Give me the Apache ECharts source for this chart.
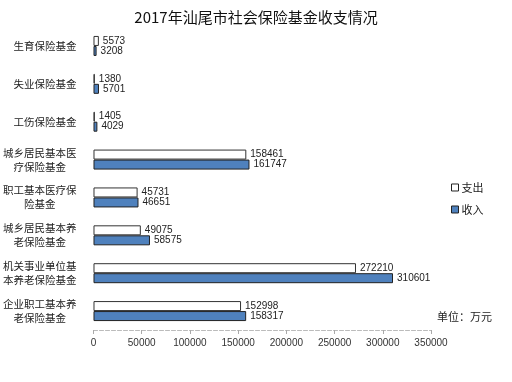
<!DOCTYPE html>
<html><head><meta charset="utf-8">
<script src="https://cdn.jsdelivr.net/npm/echarts@6/dist/echarts.min.js"></script>
<style>html,body{margin:0;padding:0;background:#fff}#c{width:512px;height:382px}</style>
</head><body><div id="c"></div>
<script>
const categories = ['生育保险基金','失业保险基金','工伤保险基金','城乡居民基本医\n疗保险基金　','职工基本医疗保\n险基金　　','城乡居民基本养\n老保险基金　','机关事业单位基\n本养老保险基金','企业职工基本养\n老保险基金　'];
const expenditure = [5573,1380,1405,158461,45731,49075,272210,152998];
const income = [3208,5701,4029,161747,46651,58575,310601,158317];
const xTicks = [0,50000,100000,150000,200000,250000,300000,350000];
const seriesNames = ['支出','收入'];

const chart = echarts.init(document.getElementById('c'));
const font = '"Noto Sans CJK SC", sans-serif';
const numFont = '"Liberation Sans", "DejaVu Sans", sans-serif';
chart.setOption({
  animation:false,
  title:{text:'2017年汕尾市社会保险基金收支情况',left:'center',top:5,
    textStyle:{fontFamily:font,fontSize:15,fontWeight:'normal',color:'#111'}},
  legend:{orient:'vertical',left:446,top:177,itemWidth:7,itemHeight:7,itemGap:11,icon:'rect',
    data:[{name:seriesNames[0],itemStyle:{color:'#fff',borderColor:'#222',borderWidth:1}},
          {name:seriesNames[1],itemStyle:{color:'#4f81bd',borderColor:'#222',borderWidth:1}}],
    textStyle:{fontFamily:font,fontSize:11,color:'#222',padding:[0,0,0,-2]}},
  grid:{left:92,right:81,top:27,bottom:52},
  xAxis:{type:'value',min:xTicks[0],max:xTicks[xTicks.length-1],interval:50000,
    axisLine:{show:true,lineStyle:{color:'#bbb',type:'dashed'}},
    axisTick:{show:true,length:4,lineStyle:{color:'#aaa'}},
    splitLine:{show:false},
    axisLabel:{margin:8,fontFamily:numFont,fontSize:10,color:'#333',formatter:v=>String(v)}},
  yAxis:{type:'category',inverse:true,data:categories,
    axisLine:{show:false},axisTick:{show:false},
    axisLabel:{margin:17,fontFamily:font,fontSize:10.5,color:'#222',lineHeight:14,align:'right'}},
  series:[
    {name:seriesNames[0],type:'bar',data:expenditure,barWidth:10,barGap:'0%',
      itemStyle:{color:'#fff',borderColor:'#333',borderWidth:1},
      label:{show:true,position:'right',distance:4,fontFamily:numFont,fontSize:10,color:'#222'}},
    {name:seriesNames[1],type:'bar',data:income,barWidth:10,
      itemStyle:{color:'#4f81bd',borderColor:'#222',borderWidth:1},
      label:{show:true,position:'right',distance:4,fontFamily:numFont,fontSize:10,color:'#222'}}
  ],
  graphic:[{type:'text',left:437,top:311,style:{text:'单位：万元',font:'11px "Noto Sans CJK SC"',fill:'#222'}}]
});
</script></body></html>
